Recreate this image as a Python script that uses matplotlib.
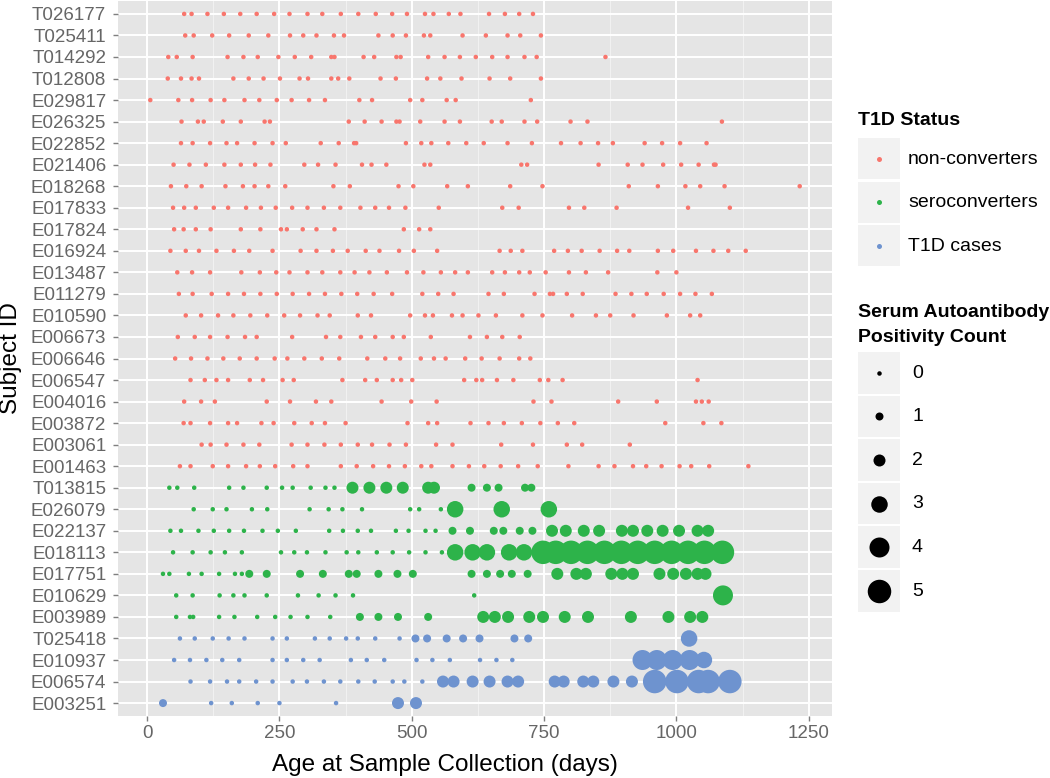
import matplotlib
matplotlib.use("Agg")
import matplotlib.pyplot as plt
from matplotlib.patches import Rectangle

plt.rcParams['font.family'] = ['Liberation Sans', 'DejaVu Sans']

############ data: ages (days) and autoantibody counts per subject ############
subjects = ["T026177", "T025411", "T014292", "T012808", "E029817", "E026325",
            "E022852", "E021406", "E018268", "E017833", "E017824", "E016924",
            "E013487", "E011279", "E010590", "E006673", "E006646", "E006547",
            "E004016", "E003872", "E003061", "E001463",
            "T013815", "E026079", "E022137", "E018113", "E017751", "E010629",
            "E003989",
            "T025418", "E010937", "E006574", "E003251"]
status = ["non-converters"] * 22 + ["seroconverters"] * 7 + ["T1D cases"] * 4
status_names = ["non-converters", "seroconverters", "T1D cases"]
status_colors = ["#F8766D", "#2DB34A", "#6E93CF"]
count_levels = [0, 1, 2, 3, 4, 5]

T026177 = [70, 84, 114, 145, 176, 207, 240, 269, 303, 331, 366, 399, 432, 463, 491, 525, 541, 570, 592, 646, 676, 703, 729]
T025411 = [72, 88, 123, 155, 192, 229, 270, 295, 320, 353, 372, 437, 464, 489, 523, 535, 596, 640, 681, 705, 744]
T014292 = [40, 56, 86, 152, 182, 209, 248, 279, 310, 348, 354, 409, 429, 471, 479, 531, 562, 591, 621, 652, 681, 713, 736, 866]
T012808 = [39, 64, 84, 98, 163, 192, 220, 251, 288, 304, 348, 361, 382, 441, 470, 529, 554, 594, 647, 686, 744]
E029817 = [6, 59, 85, 120, 146, 184, 212, 245, 273, 306, 336, 401, 425, 497, 520, 566, 583, 725]
E026325 = [65, 96, 107, 143, 177, 222, 232, 381, 411, 443, 471, 477, 516, 562, 591, 651, 670, 713, 737, 800, 832, 1086]
E022852 = [64, 86, 119, 150, 170, 203, 237, 262, 328, 362, 391, 395, 489, 518, 537, 569, 603, 636, 681, 727, 782, 819, 852, 880, 940, 973, 1007, 1057]
E021406 = [50, 80, 111, 146, 177, 204, 233, 297, 323, 356, 406, 424, 452, 524, 535, 707, 718, 853, 908, 936, 975, 1009, 1042, 1071, 1074]
E018268 = [45, 74, 103, 148, 181, 203, 229, 261, 352, 383, 475, 503, 567, 606, 686, 747, 910, 965, 1017, 1045, 1091, 1233]
E017833 = [49, 70, 92, 126, 153, 187, 215, 243, 274, 303, 334, 365, 403, 431, 457, 488, 551, 671, 702, 797, 826, 887, 1022, 1101]
E017824 = [51, 69, 92, 120, 177, 214, 253, 264, 294, 320, 354, 485, 514, 535]
E016924 = [44, 73, 98, 131, 164, 193, 237, 290, 320, 351, 379, 413, 439, 476, 504, 548, 666, 687, 709, 769, 795, 821, 855, 888, 911, 965, 994, 1037, 1070, 1098, 1131]
E013487 = [57, 85, 119, 178, 213, 244, 269, 303, 331, 365, 392, 420, 453, 491, 522, 555, 582, 606, 652, 676, 703, 723, 753, 797, 829, 871, 964, 1000]
E011279 = [60, 86, 122, 153, 183, 214, 245, 275, 306, 336, 367, 397, 428, 463, 520, 550, 579, 645, 674, 732, 761, 767, 793, 823, 885, 915, 944, 976, 1007, 1036, 1067]
E010590 = [73, 102, 134, 163, 195, 227, 259, 289, 322, 345, 398, 423, 497, 525, 540, 576, 596, 626, 659, 709, 747, 803, 848, 875, 919, 982, 1026, 1045]
E006673 = [58, 90, 119, 152, 185, 207, 274, 338, 365, 404, 431, 464, 485, 536, 610, 642, 671, 704]
E006646 = [53, 83, 114, 144, 175, 207, 241, 265, 297, 330, 363, 416, 450, 478, 517, 542, 564, 601, 632, 666, 703, 724]
E006547 = [82, 109, 131, 153, 194, 219, 256, 277, 369, 412, 434, 464, 480, 501, 599, 622, 633, 661, 692, 742, 758, 785, 1040]
E004016 = [70, 102, 128, 226, 270, 319, 348, 443, 499, 547, 730, 764, 890, 963, 1037, 1048, 1061]
E003872 = [69, 82, 119, 153, 170, 216, 239, 278, 311, 336, 375, 492, 531, 548, 611, 645, 674, 708, 743, 776, 807, 979, 1051, 1085]
E003061 = [103, 120, 150, 182, 212, 273, 303, 335, 366, 398, 425, 458, 489, 546, 577, 669, 729, 793, 822, 912]
E001463 = [62, 82, 124, 153, 187, 213, 242, 276, 303, 366, 396, 427, 457, 487, 518, 537, 577, 608, 637, 668, 701, 738, 796, 853, 883, 918, 943, 972, 1006, 1028, 1062, 1136]

T013815 = [42, 57, 89, 155, 182, 226, 255, 275, 309, 337, 354, 388, 420, 452, 483, 531, 542, 613, 642, 664, 714, 726]
T013815_n = [0, 0, 0, 0, 0, 0, 0, 0, 0, 0, 0, 2, 2, 2, 2, 2, 2, 1, 1, 1, 1, 1]
E026079 = [88, 124, 150, 198, 227, 307, 343, 369, 406, 497, 514, 555, 582, 670, 759]
E026079_n = [0, 0, 0, 0, 0, 0, 0, 0, 0, 0, 0, 0, 3, 3, 3]
E022137 = [44, 64, 97, 126, 155, 183, 218, 247, 281, 344, 370, 398, 423, 470, 494, 526, 545,
           577, 610, 655, 673, 704, 728, 765, 791, 825, 854, 897, 918, 945, 974, 1005, 1040, 1060]
E022137_n = [0, 0, 0, 0, 0, 0, 0, 0, 0, 0, 0, 0, 0, 0, 0, 0, 0,
             1, 1, 1, 1, 1, 1, 2, 2, 2, 2, 2, 2, 2, 2, 2, 2, 2]
E018113 = [49, 86, 120, 147, 179, 253, 278, 302, 337, 377, 399, 434, 464, 495, 526, 557,
           582, 615, 642, 684, 712, 748, 772, 801, 832, 864, 896, 927, 959, 991, 1022, 1053, 1087]
E018113_n = [0, 0, 0, 0, 0, 0, 0, 0, 0, 0, 0, 0, 0, 0, 0, 0,
             3, 3, 3, 3, 3, 5, 5, 5, 5, 5, 5, 5, 5, 5, 5, 5, 5]
E017751 = [30, 42, 79, 103, 136, 166, 179, 193, 226, 289, 332, 381, 396, 437, 473, 502,
           613, 642, 667, 689, 719, 775, 811, 829, 877, 898, 918, 968, 994, 1018, 1040, 1055]
E017751_n = [0, 0, 0, 0, 0, 0, 0, 1, 1, 1, 1, 1, 1, 1, 1, 1,
             1, 1, 1, 1, 1, 2, 2, 2, 2, 2, 2, 2, 2, 2, 2, 2]
E010629 = [55, 86, 137, 163, 184, 226, 285, 324, 356, 389, 618, 1088]
E010629_n = [0, 0, 0, 0, 0, 0, 0, 0, 0, 0, 0, 4]
E003989 = [55, 81, 87, 136, 165, 208, 242, 271, 303, 346, 402, 437, 474, 531,
           635, 657, 682, 722, 748, 789, 833, 914, 985, 1026, 1049]
E003989_n = [0, 0, 0, 0, 0, 0, 0, 0, 0, 0, 1, 1, 1, 1,
             2, 2, 2, 2, 2, 2, 2, 2, 2, 2, 2]

T025418 = [62, 90, 124, 154, 184, 237, 264, 317, 345, 376, 398, 431, 477, 507, 529, 566, 597, 628, 694, 720, 1024]
T025418_n = [0, 0, 0, 0, 0, 0, 0, 0, 0, 0, 0, 0, 0, 1, 1, 1, 1, 1, 1, 1, 3]
E010937 = [51, 81, 112, 142, 174, 237, 264, 295, 326, 385, 415, 448, 509, 539, 572, 629, 660, 690, 936, 963, 993, 1025, 1052]
E010937_n = [0, 0, 0, 0, 0, 0, 0, 0, 0, 0, 0, 0, 0, 0, 0, 0, 0, 0, 4, 4, 4, 4, 3]
E006574 = [82, 119, 151, 174, 206, 237, 275, 302, 334, 365, 399, 430, 464, 486, 520,
           559, 579, 615, 647, 681, 701, 770, 787, 824, 843, 881, 916, 959, 1001, 1042, 1060, 1101]
E006574_n = [0, 0, 0, 0, 0, 0, 0, 0, 0, 0, 0, 0, 0, 0, 0,
             2, 2, 2, 2, 2, 2, 2, 2, 2, 2, 2, 2, 5, 5, 5, 5, 5]
E003251 = [30, 121, 160, 209, 250, 357, 474, 508]
E003251_n = [1, 0, 0, 0, 0, 0, 2, 2]

ages = {s: globals()[s] for s in subjects}
counts = {s: globals().get(s + "_n", [0] * len(globals()[s])) for s in subjects}

######################## point sizes (diameter in px) ########################
DPI = 100
diam = {0: 4.5, 1: 8, 2: 12, 3: 16.5, 4: 20, 5: 23.5}
def msize(d):
    return (d * 72.0 / DPI) ** 2

W, H = 1050, 778
fig = plt.figure(figsize=(W / DPI, H / DPI), dpi=DPI)
ax = fig.add_axes([118 / W, 1 - 716 / H, (832 - 118) / W, 715 / H])
ax.set_facecolor('#E5E5E5')

for i, s in enumerate(subjects):
    col = status_colors[status_names.index(status[i])]
    ax.scatter(ages[s], [i] * len(ages[s]), s=[msize(diam[c]) for c in counts[s]],
               color=col, linewidths=0, zorder=3)

ax.set_xlim(-55, 1294)
ax.set_ylim(len(subjects) - 0.4, -0.6)
ax.set_xticks([0, 250, 500, 750, 1000, 1250])
ax.set_xticks([125, 375, 625, 875, 1125], minor=True)
ax.set_yticks(range(len(subjects)))
ax.set_yticklabels(subjects)
ax.grid(which='major', color='white', lw=1.4, zorder=1)
ax.grid(which='minor', axis='x', color='#F2F2F2', lw=0.7, zorder=1)
ax.set_axisbelow(True)
for sp in ax.spines.values():
    sp.set_visible(False)
ax.tick_params(which='major', length=3.4, width=1, color='#7F7F7F',
               labelcolor='#666666', labelsize=13.5, pad=3)
ax.tick_params(axis='y', pad=5)
ax.tick_params(which='minor', length=0)
ax.set_xlabel('Age at Sample Collection (days)', fontsize=17.5)
ax.xaxis.set_label_coords((445 - 118) / 714, -(765 - 716) / 715)
ax.xaxis.label.set_va('center')
ax.set_ylabel('Subject ID', fontsize=17.5, labelpad=6)

######################## legends drawn in pixel space ########################
lg = fig.add_axes([0, 0, 1, 1])
lg.set_xlim(0, W)
lg.set_ylim(H, 0)
lg.axis('off')

lg.text(858, 120, 'T1D Status', fontsize=14, fontweight='bold', va='center')
for k, name in enumerate(status_names):
    y0 = 138 + k * 43.5
    lg.add_patch(Rectangle((858, y0), 42, 41, facecolor='#F2F2F2', edgecolor='none'))
    lg.scatter([879], [y0 + 20.5], s=msize(5), color=status_colors[k], linewidths=0)
    lg.text(908, y0 + 21, name, fontsize=14, va='center')

lg.text(858, 312, 'Serum Autoantibody', fontsize=14, fontweight='bold', va='center')
lg.text(858, 337, 'Positivity Count', fontsize=14, fontweight='bold', va='center')
for k, c in enumerate(count_levels):
    y0 = 352 + k * 43.6
    lg.add_patch(Rectangle((858, y0), 42, 41.5, facecolor='#F2F2F2', edgecolor='none'))
    lg.scatter([879], [y0 + 20.7], s=msize(diam[c]), color='black', linewidths=0)
    lg.text(912, y0 + 21, str(c), fontsize=14, va='center')

plt.savefig('out.png', dpi=DPI)
